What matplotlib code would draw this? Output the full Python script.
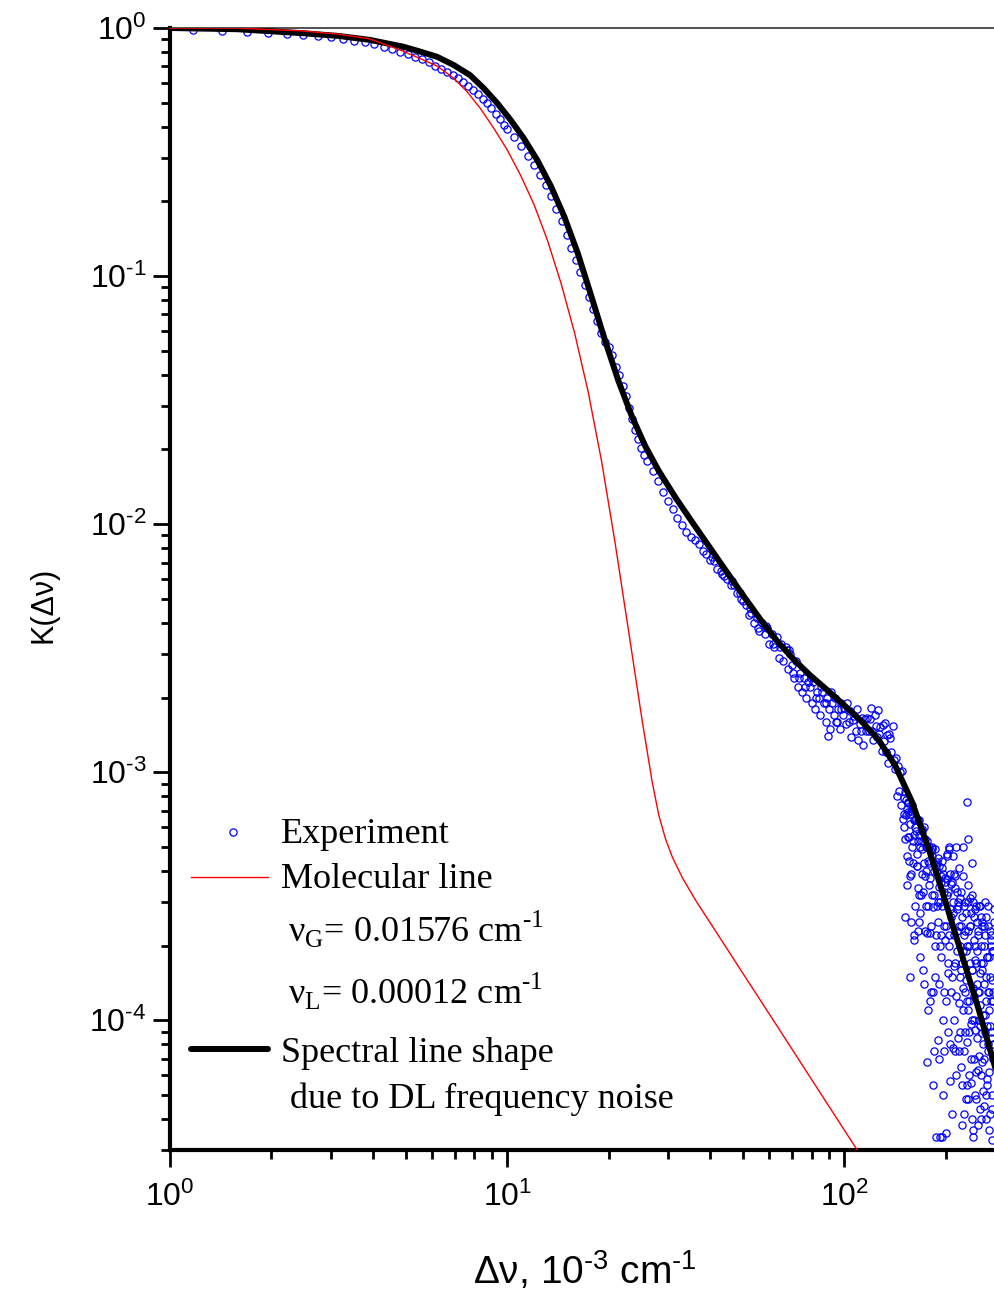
import numpy as np
import matplotlib
matplotlib.use('Agg')
import matplotlib.pyplot as plt
from matplotlib.ticker import NullFormatter, FuncFormatter

plt.rcParams['font.family'] = ['Liberation Sans', 'DejaVu Sans']
plt.rcParams['mathtext.fontset'] = 'custom'
plt.rcParams['mathtext.rm'] = 'Liberation Sans'
plt.rcParams['axes.unicode_minus'] = False

HY = '\u2010'  # short hyphen used as minus in the original

# experiment, smooth part (x in 1e-3 cm-1)
exp_x_top = [1.17, 1.43, 1.69, 1.95, 2.22, 2.48, 2.74, 3.00, 3.26, 3.52, 3.78, 4.04, 4.30, 4.56,
             4.82, 5.08, 5.34, 5.60, 5.86, 6.12, 6.38, 6.64, 6.90, 7.16, 7.42, 7.68, 7.94, 8.20,
             8.46, 8.72, 8.98, 9.24, 9.50, 9.76, 10.0, 10.5, 11.0, 11.5, 12.0, 12.5, 13.0, 13.5,
             14.0, 14.5, 15.0, 15.5, 16.0, 16.5, 17.0, 17.5, 18.0, 18.5, 19.0, 19.5, 20.0, 20.5,
             21.0, 21.5, 22.0, 22.5, 23.0, 23.5, 24.0, 24.5, 25.0, 25.5, 26.0]
exp_y_top = [.985, .975, .965, .955, .946, .937, .926, .916, .903, .890, .875, .860, .842, .823,
             .803, .785, .767, .750, .728, .705, .684, .665, .647, .628, .607, .586, .565, .542,
             .519, .498, .475, .452, .430, .405, .390, .362, .335, .305, .280, .255, .232, .210,
             .186, .167, .147, .130, .116, .104, .092, .082, .074, .066, .059, .054, .052, .048,
             .043, .040, .036, .033, .0295, .0265, .0240, .0220, .0203, .0190, .0180]

# experiment, middle part
exp_x_mid = [27, 28, 29, 30, 31, 32, 33, 34, 35, 36, 37, 38, 39, 40, 41, 42, 43, 44, 45, 46, 47,
             48, 49, 50, 51, 52, 53, 54, 55, 56, 57, 58, 59, 60, 61, 62, 63, 64, 65, 66, 67, 68,
             69, 70, 71, 72, 73, 74, 75, 76, 77, 78, 79, 80, 81, 82, 83, 84, 85, 86, 87, 88, 89,
             90, 91, 92, 93, 94, 95, 96, 97, 98, 99,
             40.5, 43.5, 46.5, 49.5, 52.5, 55.5, 58.5, 61.5, 64.5, 67.5, 68.5, 70.5, 73.5, 76.5,
             79.5, 82.5, 85.5, 88.5, 89.2, 91.5, 94.5, 97.5]
exp_y_mid = [.0164, .0149, .0135, .0124, .0115, .0106, .0099, .0093, .0089, .0086, .0083, .0078,
             .0076, .0072, .0071, .0066, .0065, .0062, .0060, .0057, .0057, .0053, .0053, .0049,
             .0047, .0043, .0044, .0040, .0042, .0037, .0040, .0036, .0038, .0033, .0036, .0032,
             .0035, .0029, .0033, .0028, .0032, .0026, .0030, .0027, .0024, .0028, .0022, .0025,
             .0021, .0024, .0020, .0023, .0022, .0019, .0023, .0018, .0021, .0020, .0017, .0021,
             .0019, .0016, .0020, .0018, .0015, .0019, .0017, .0020, .0016, .0018, .0015, .0019,
             .0017,
             .0074, .0063, .0059, .0050, .0046, .0038, .0039, .0033, .0032, .0031, .0031, .0025,
             .0024, .0022, .0024, .0020, .0022, .0019, .0014, .0021, .0016, .0018]

# experiment, noisy tail (y in 1e-4)
tail_x = [100, 101, 102, 103, 104, 105, 106, 107, 108, 109, 110, 111, 112, 113, 114, 115, 116,
          117, 118, 119, 120, 121, 122, 123, 124, 125, 126, 127, 128, 129, 130, 131, 132, 133,
          134, 135, 136, 137, 138, 139, 140, 141, 142, 143, 144, 145, 146, 147, 148, 149,
          150, 151, 152, 153, 154, 155, 156, 157, 158, 159, 160, 161, 162, 163, 164, 165, 166,
          167, 168, 169, 170, 171, 172, 173, 174, 175, 176, 177, 178, 179, 180, 181, 182, 183,
          184, 185, 186, 187, 188, 189, 190, 191, 192, 193, 194, 195, 196, 197, 198, 199,
          200, 201, 202, 203, 204, 205, 206, 207, 208, 210, 211, 212, 213, 214, 215, 216, 218,
          219, 220, 221, 222, 223, 224, 225, 226, 227, 228, 229, 230, 231, 232, 233, 234, 235,
          236, 237, 238, 239, 240, 241, 242, 243, 244, 245, 246, 247, 248, 249, 250, 251, 252,
          253, 254, 255, 256, 257, 258, 259, 260, 261, 262, 263, 264, 265, 266, 267, 268, 269,
          270, 271, 272, 273, 274, 275, 276, 277]
tail_y = [18.2, 15.7, 19.0, 16.0, 17.7, 13.9, 16.3, 16.8, 14.7, 18.0, 13.5, 15.7, 14.7, 16.5,
          12.9, 16.4, 14.7, 16.5, 14.6, 16.4, 18.1, 14.7, 13.5, 17.0, 15.3, 13.9, 17.8, 14.3,
          15.2, 12.2, 15.5, 13.4, 15.8, 12.1, 14.1, 10.9, 14.3, 13.7, 12.1, 15.3, 11.2, 10.3,
          11.4, 8.0, 10.6, 8.4, 10.0, 7.4, 10.1, 6.5,
          6.8, 2.6, 7.7, 7.1, 5.5, 7.6, 4.4, 6.2, 2.5, 7.4, 5.3, 6.4, 2.9, 6.5, 4.2, 5.3, 3.2,
          6.4, 1.8, 5.3, 5.8, 3.3, 6.0, 2.3, 3.8, 5.0, 0.68, 4.4, 5.0, 2.25, 3.75, 1.3, 5.0, 2.85,
          4.3, 0.75, 4.9, 2.2, 2.9, 4.5, 0.83, 3.45, 0.34, 3.8, 2.2, 4.1, 1.0, 3.3, 1.3, 3.75,
          0.35, 3.2, 4.7, 1.7, 2.2, 4.9, 0.8, 2.6, 3.6, 3.0, 1.65, 3.9, 0.75, 5.0, 1.25, 2.3, 3.0,
          2.4, 0.9, 3.1, 1.6, 0.55, 2.6, 1.9, 0.75, 2.2, 3.0, 0.48, 1.45, 0.82, 3.5, 1.1, 2.0, 0.6,
          2.4, 0.97, 2.7, 0.4, 1.6, 3.0, 0.7, 1.25, 2.0, 0.5, 1.7, 2.5, 0.85, 1.3, 0.38, 2.9, 0.95,
          1.55, 0.6, 2.0, 0.68, 2.4, 1.05, 1.4, 0.45, 2.2, 0.9, 1.5, 2.6, 0.55, 1.3, 0.75, 1.8,
          0.36, 2.3, 0.95, 1.2, 2.0, 0.5, 1.45, 0.8, 1.9]

tail2_x = [150.5, 151.5, 152.5, 153.5, 154.5, 155.5, 156.5, 157.5, 158.5, 159.5, 160.5, 161.5,
           162.5, 163.5, 164.5, 165.5, 166.5, 167.5, 168.5, 169.5, 170.5, 171.5, 172.5, 173.5,
           174.5, 175.5, 176.5, 177.5, 178.5, 179.5, 180.5, 181.5, 182.5, 183.5, 184.5, 185.5,
           186.5, 187.5, 188.5, 189.5, 190.5, 191.5, 192.5, 193.5, 194.5, 195.5, 196.5, 197.5,
           198.5, 199.5, 200.5, 201.5, 202.5, 203.5, 204.5, 205.5, 206.5, 207.5, 208.5, 209.5,
           210.5, 211.5, 212.5, 213.5, 215.5, 216.5, 217.5, 218.5, 219.5, 220.5, 221.5, 222.5,
           223.5, 224.5, 225.5, 226.5, 227.5, 228.5, 229.5, 230.5, 231.5, 232.5, 233.5, 234.5,
           235.5, 236.5, 237.5, 238.5, 239.5, 240.5, 241.5, 242.5, 243.5, 244.5, 245.5, 246.5,
           247.5, 248.5, 249.5, 250.5, 251.5, 252.5, 253.5, 254.5, 255.5, 256.5, 257.5, 258.5,
           259.5, 260.5, 261.5, 262.5, 263.5, 264.5, 265.5, 266.5, 267.5, 268.5, 269.5, 270.5,
           271.5, 272.5, 273.5, 274.5, 275.5, 276.5, 277.5,
           231, 233, 225, 156.2, 165.3, 240]
tail2_y = [7.9, 5.4, 6.7, 3.5, 7.5, 5.5, 6.8, 3.9, 7.1, 4.3, 5.6, 2.1, 6.4, 5.8, 4.2, 6.4, 2.5,
           5.0, 3.2, 5.9, 3.9, 5.3, 1.4, 5.4, 4.0, 2.25, 5.0, 2.9, 4.3, 1.2, 4.8, 3.2, 4.9, 1.3,
           4.0, 2.0, 4.2, 0.34, 4.35, 3.0, 1.4, 4.2, 2.0, 3.6, 0.34, 2.9, 3.9, 0.75, 2.1, 3.6,
           2.4, 4.6, 1.55, 3.3, 5.0, 0.57, 2.8, 3.55, 1.5, 4.6, 0.77, 2.2, 3.8, 1.7, 3.3, 2.8,
           0.85, 4.1, 1.17, 2.0, 0.65, 3.3, 1.7, 1.1, 3.8, 0.42, 2.3, 1.3, 2.7, 1.2, 2.0, 0.48,
           3.0, 0.9, 1.7, 2.4, 0.56, 3.2, 1.0, 1.35, 0.34, 2.6, 1.75, 0.91, 2.9, 0.62, 1.9, 0.63,
           2.3, 1.0, 1.3, 2.9, 0.44, 1.7, 0.89, 2.5, 0.52, 1.7, 2.0, 0.7, 3.0, 0.4, 1.2, 0.58,
           1.8, 0.8, 2.4, 1.1, 1.3, 0.42, 2.1, 0.9, 0.33, 1.9, 0.7, 1.3, 2.8,
           7.6, 5.4, 5.0, 1.5, 2.3, 4.3]

tail3_x = [150.25, 151.75, 153.25, 154.75, 156.25, 157.75, 159.25, 160.75, 162.25, 163.75,
           165.25, 166.75, 168.25, 169.75, 171.25, 172.75, 174.25, 175.75, 177.25, 178.75,
           180.25, 181.75, 183.25, 184.75, 186.25, 187.75, 189.25, 190.75, 192.25, 193.75,
           195.25, 196.75, 198.25, 199.75, 201.25, 202.75, 204.25, 205.75, 207.25, 208.75,
           210.25, 211.75, 213.25, 214.75, 216.25, 217.75, 219.25, 220.75, 222.25, 223.75,
           225.25, 226.75, 228.25, 229.75, 231.25, 232.75, 234.25, 235.75, 237.25, 238.75,
           240.25, 241.75, 243.25, 244.75, 246.25, 247.75, 249.25, 250.75, 252.25, 253.75,
           255.25, 256.75, 258.25, 259.75, 261.25, 262.75, 264.25, 265.75, 267.25, 268.75,
           270.25, 271.75, 273.25, 274.75, 276.25, 277.75]
tail3_y = [6.0, 8.3, 4.6, 6.9, 3.8, 7.0, 5.0, 2.2, 6.0, 4.7, 3.4, 5.6, 2.7, 4.9, 1.6, 4.3, 2.9,
           5.3, 1.1, 3.5, 2.4, 4.6, 0.55, 3.2, 1.5, 4.0, 2.5, 0.7, 3.0, 1.8, 4.4, 0.5, 2.4, 1.2,
           3.7, 0.9, 2.0, 3.9, 1.3, 0.42, 2.7, 1.0, 3.4, 0.6, 1.9, 2.9, 0.75, 1.5, 2.4, 0.38,
           1.35, 2.9, 0.9, 1.9, 0.55, 2.3, 1.2, 3.1, 0.7, 1.6, 0.36, 2.1, 1.0, 2.8, 0.48, 1.4,
           2.2, 0.72, 1.15, 2.6, 0.4, 1.6, 0.8, 2.4, 1.05, 0.5, 1.8, 0.95, 2.9, 0.62, 1.5, 0.85,
           2.2, 0.44, 1.2, 2.5]

# spectral line shape due to DL frequency noise
fit_x = [1.0, 1.585, 2.477, 3.162, 3.917, 4.909, 5.495, 6.194, 6.918, 7.762, 8.511, 9.333,
         10.23, 11.22, 12.30, 13.49, 14.79, 16.22, 17.78, 19.50, 21.38, 23.44, 25.70, 28.18,
         31.62, 35.48, 39.81, 44.67, 50.12, 56.23, 63.10, 70.79, 79.43, 89.13, 100.0, 112.2,
         125.9, 141.3, 158.5, 177.8, 199.5, 223.9, 251.2, 281.8]
fit_y = [1.0, .9886, .9528, .929, .8954, .8414, .805, .7656, .711, .6457, .5728, .4989,
         .4266, .3581, .2924, .2301, .1730, .1230, .0828, .0552, .0378, .0272, .0206, .01637,
         .01276, .01014, .00809, .00646, .00516, .00415, .00339, .00285, .00245, .00214,
         .00186, .00161, .00136, .00107, .000764, .000493, .000301, .000181, .000109,
         .0000628]

# molecular line
mol_x = [1.0, 1.585, 2.477, 3.162, 3.917, 4.909, 6.194, 6.918, 7.586, 8.318, 9.120, 10.0,
         10.96, 12.02, 13.18, 14.45, 15.85, 17.38, 19.05, 20.89, 22.91, 25.12, 26.92, 28.18,
         29.51, 30.90, 33.11, 36.31, 39.81, 50.12, 63.10, 79.43, 100.0, 125.9]
mol_y = [1.0, .999, .973, .944, .904, .807, .703, .630, .556, .475, .395, .323, .255, .194,
         .139, .0935, .0590, .0343, .0180, .00845, .00372, .00163, .000916, .000670, .000537,
         .000455, .000375, .000303, .000250, .000154, .0000951, .0000586, .0000361, .0000223]

exp_x = np.concatenate([exp_x_top, exp_x_mid, tail_x, tail2_x, tail3_x])
exp_y = np.concatenate([exp_y_top, exp_y_mid, np.array(tail_y) * 1e-4,
                        np.array(tail2_y) * 1e-4, np.array(tail3_y) * 1e-4])

fig = plt.figure(figsize=(9.94, 12.9), dpi=100)
ax = fig.add_axes([170 / 994, 140 / 1290, 824 / 994, 1122 / 1290])

blue = '#0000ff'
ax.plot(exp_x, exp_y, 'o', mfc='none', mec=blue, ms=5.2, mew=0.9, zorder=2)
ax.plot(fit_x, fit_y, '-', color='black', lw=4.3, zorder=3)
ax.plot(mol_x, mol_y, '-', color='#ff0000', lw=1.0, zorder=4)

ax.set_xscale('log')
ax.set_yscale('log')
ax.set_xlim(1, 278)
ax.set_ylim(3e-5, 1)

ax.spines['left'].set_linewidth(3)
ax.spines['bottom'].set_linewidth(3)
ax.spines['top'].set_linewidth(1.2)
ax.spines['top'].set_color('0.2')
ax.spines['right'].set_visible(False)


def pow10(v, pos):
    e = int(round(np.log10(v)))
    s = str(e).replace('-', HY)
    return r'$\mathdefault{10^{%s}}$' % s


ax.xaxis.set_major_formatter(FuncFormatter(pow10))
ax.yaxis.set_major_formatter(FuncFormatter(pow10))
ax.xaxis.set_minor_formatter(NullFormatter())
ax.yaxis.set_minor_formatter(NullFormatter())
ax.tick_params(which='major', direction='out', length=12, width=2, labelsize=23, pad=5,
               top=False, right=False)
ax.tick_params(axis='x', which='major', pad=11)
ax.tick_params(which='minor', direction='out', length=6.5, width=2, top=False, right=False)

ax.set_ylabel('K(Δν)', fontsize=22, va='center')
ax.yaxis.set_label_coords(-0.154, 0.486)
ax.set_xlabel('Δν, 10$^{%s3}$ cm$^{%s1}$' % (HY, HY), fontsize=28, va='center')
ax.xaxis.set_label_coords(0.504, -0.107)

# legend drawn by hand
ax.plot([0.0765], [0.2834], 'o', transform=ax.transAxes, mfc='none', mec=blue, ms=5.2, mew=0.9)
ax.plot([0.0251, 0.1193], [0.2430, 0.2430], transform=ax.transAxes, color='#ff0000', lw=1.0)
ax.plot([0.0255, 0.1190], [0.0897, 0.0897], transform=ax.transAxes, color='black', lw=4.3,
        solid_capstyle='round')

lf = dict(family=['Liberation Serif', 'DejaVu Serif'], fontsize=26, transform=ax.transAxes,
          va='baseline', ha='left')
ax.text(0.135, 0.2733, 'Experiment', **lf)
ax.text(0.135, 0.2333, 'Molecular line', **lf)
ax.text(0.143, 0.1857, r'ν$_\mathregular{G}$= 0.01576 cm$^\mathregular{%s1}$' % HY, **lf)
ax.text(0.143, 0.1301, r'ν$_\mathregular{L}$= 0.00012 cm$^\mathregular{%s1}$' % HY, **lf)
ax.text(0.135, 0.0787, 'Spectral line shape', **lf)
ax.text(0.135, 0.0375, ' due to DL frequency noise', **lf)

fig.savefig('out.png', dpi=100)
